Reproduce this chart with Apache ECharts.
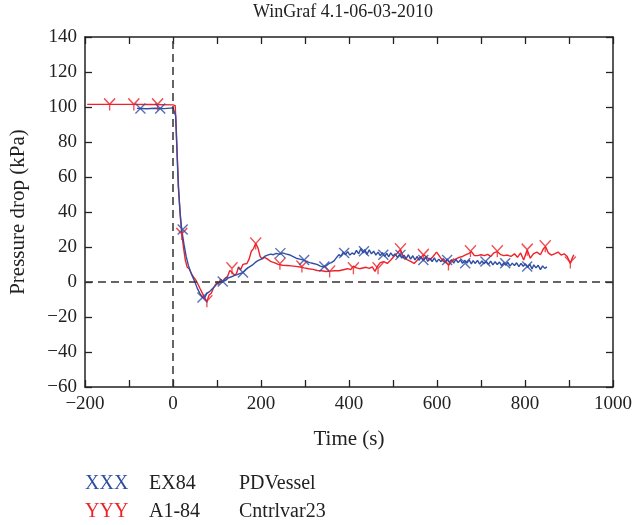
<!DOCTYPE html>
<html>
<head>
<meta charset="utf-8">
<script src="https://cdn.jsdelivr.net/npm/echarts@6/dist/echarts.min.js"></script>
<style>
html, body { margin: 0; padding: 0; background: #fff; }
#chart { width: 636px; height: 525px; }
</style>
</head>
<body>
<div id="chart"></div>
<script>
// EX84 PDVessel (blue), [time s, kPa]
const ex84 = [
  [-82, 99.2], [-60, 99.0], [-40, 99.3], [-20, 99.1], [0, 99.5], [4, 99.8], [6, 95], [9, 75],
  [12, 55], [16, 40], [20, 29.5], [25, 21.5], [30, 14.5], [35, 9.5], [42, 4.5], [49, 0.5],
  [55, -3.5], [61, -6.5], [67, -8.8], [72, -9], [77, -6.5], [83, -5.5], [89, -4], [95, -2.5],
  [100, -1], [106, -0.2], [113, 0.3], [120, 1], [126, 2.4], [133, 3], [139, 3.6], [146, 4.2],
  [153, 4.9], [159, 5.4], [165, 7], [172, 8.4], [180, 9.6], [187, 11.2], [194, 12.4], [201, 13.1],
  [208, 14.6], [215, 15.4], [222, 15.9], [228, 15.6], [235, 16.4], [242, 15.8], [249, 16.6], [256, 16.1],
  [264, 15.6], [272, 14.6], [280, 13.6], [288, 13.1], [295, 12.6], [303, 11.8], [311, 11.1], [319, 10.6],
  [327, 10.1], [335, 9.1], [343, 8.6], [349, 9.4], [355, 10.6], [360, 11.1], [366, 12.1], [372, 14.1],
  [377, 15.6], [382, 14.8], [387, 17.1], [392, 15.6], [397, 17.4], [402, 15.4], [407, 16.6], [412, 15.8],
  [417, 18.1], [422, 16.1], [427, 19.1], [432, 16.6], [436, 18.6], [441, 15.8], [446, 18.4], [451, 16.1],
  [456, 17.6], [461, 15.4], [466, 17.1], [471, 15.1], [476, 16.8], [481, 14.6], [486, 16.4], [490, 14.4],
  [495, 16.6], [500, 14.8], [505, 16.1], [510, 14.1], [515, 15.8], [520, 13.6], [525, 15.4], [530, 13.4],
  [535, 15.6], [540, 13.1], [545, 15], [550, 12.6], [555, 14.6], [559, 12.4], [564, 14.2], [569, 12.1],
  [574, 14.4], [579, 11.8], [584, 13.6], [589, 11.6], [594, 13.8], [599, 11.4], [604, 13.1], [609, 11.6],
  [614, 13.4], [619, 11.1], [623, 13.2], [628, 11.4], [633, 12.8], [638, 10.8], [643, 13], [648, 11.1],
  [653, 12.6], [658, 10.6], [663, 12.4], [668, 10.8], [673, 12.6], [678, 10.4], [682, 12.2], [687, 10.6],
  [692, 12.4], [697, 10.2], [702, 12], [707, 10.4], [712, 11.8], [717, 10.1], [722, 11.9], [727, 9.8],
  [732, 11.6], [737, 10], [742, 11.4], [747, 9.4], [752, 11.1], [756, 9.6], [761, 11.2], [766, 9.1],
  [771, 10.8], [776, 9.4], [781, 11], [786, 8.8], [791, 10.6], [796, 9], [801, 10.4], [806, 8.4],
  [811, 10.1], [816, 7.4], [820, 9.8], [825, 8.1], [830, 9.6], [835, 7.1], [840, 9.2], [845, 7.8], [850, 8.6]
];
const ex84Marks = [
  [-74, 99.2], [-29, 99.2], [22, 30], [67, -8.8], [113, 0.3], [159, 5.4], [244, 16.5], [298, 12.6],
  [344, 8.9], [389, 16.6], [434, 17.6], [478, 15.6], [517, 15.5], [569, 12.6], [623, 12.6], [664, 10.7],
  [710, 11.7], [755, 10.7], [805, 8.8]
];

// A1-84 Cntrlvar23 (red)
const a184 = [
  [-195, 101.5], [-150, 101.5], [-100, 101.5], [-50, 101.4], [0, 101.2], [5, 100.8], [7, 90], [10, 70],
  [13, 52], [17, 36], [20, 27.5], [24, 19.5], [28, 12.5], [32, 8.6], [37, 7.4], [42, 4.6],
  [47, 2.8], [52, 1.1], [57, -1.4], [62, -4], [67, -6.5], [72, -9], [77, -11.2], [82, -7.4],
  [87, -6.4], [92, -3.4], [97, -1.4], [100, 0.1], [103, -1.4], [108, 1.6], [113, 0.6], [118, 2.1],
  [124, 3.1], [129, 6.6], [134, 5.6], [139, 4.1], [144, 4.6], [149, 8.6], [154, 7.1], [159, 10.1],
  [163, 9.6], [168, 10.6], [173, 13.1], [178, 17.6], [183, 19.1], [188, 22.1], [193, 19.6], [198, 14.6],
  [203, 13.1], [208, 14.1], [215, 13.1], [223, 11.6], [230, 11.1], [239, 10.1], [249, 9.6], [259, 9.4],
  [269, 9.2], [279, 8.9], [289, 8.6], [298, 8.1], [308, 7.6], [318, 7.2], [328, 6.6], [338, 6.4],
  [348, 6], [358, 6.2], [367, 6.4], [377, 6.4], [387, 7], [397, 7.6], [404, 7.1], [410, 9.1],
  [417, 8.1], [424, 7.6], [431, 8], [439, 8.4], [446, 7.8], [453, 8.6], [459, 6.1], [465, 9.1],
  [471, 11.1], [479, 11.6], [487, 10.6], [495, 12.6], [502, 14.6], [510, 16.6], [517, 18.6], [524, 14.1],
  [532, 12.8], [540, 11.8], [548, 10.6], [554, 12.1], [559, 13.6], [565, 14.6], [570, 15.6], [577, 14.1],
  [584, 12.6], [591, 14.6], [599, 17.1], [606, 14.6], [613, 12.1], [620, 11.1], [627, 9.6], [634, 12.1],
  [642, 13.1], [650, 14.1], [658, 14.6], [666, 15.6], [673, 16.4], [678, 17.4], [685, 15.1], [692, 15.1],
  [700, 15.6], [708, 15.1], [715, 15.8], [722, 14.6], [729, 16.6], [737, 17.4], [745, 15.6], [752, 15.1],
  [760, 15.4], [768, 14.6], [776, 16.1], [783, 14.1], [790, 16.6], [797, 12.6], [805, 18.4], [812, 13.6],
  [819, 16.1], [827, 17.1], [835, 15.6], [842, 19.1], [847, 20.2], [853, 16.6], [860, 15.4], [867, 16.1],
  [875, 17.1], [882, 15.4], [889, 16.1], [896, 14.6], [903, 10.6], [908, 14.1], [911, 15.6]
];
const a184Marks = [
  [-144, 101.5], [-89, 101.5], [-35, 101.5], [20, 27.5], [77, -11], [134, 7.8], [188, 22], [243, 10.4],
  [293, 8.8], [356, 6], [410, 7.8], [466, 7.8], [517, 18.7], [569, 15.5], [626, 10], [676, 17.6],
  [737, 17.6], [805, 18.5], [846, 20.4], [903, 11.2]
];

const legendRows = [
  { mark: 'XXX', run: 'EX84', variable: 'PDVessel' },
  { mark: 'YYY', run: 'A1-84', variable: 'Cntrlvar23' }
];

const BLUE = '#2f4ea3';
const RED = '#ee2229';
const FONT = 'Liberation Serif';
const X_MARK = 'path://M0,0 L10,10 M10,0 L0,10';
const Y_MARK = 'path://M0,0 L5,5 L10,0 M5,5 L5,10';

const minus = v => String(v).replace('-', '\u2212');

const chart = echarts.init(document.getElementById('chart'));

const tickStyle = { show: true, inside: true, length: 7, lineStyle: { color: '#222', width: 1.3 } };
const lineStyle = { onZero: false, lineStyle: { color: '#222', width: 1.5 } };

const option = {
  backgroundColor: '#fff',
  animation: false,
  grid: { left: 84, right: 23, top: 37, bottom: 138 },
  xAxis: [
    {
      type: 'value', min: -200, max: 1000, interval: 100,
      axisLine: lineStyle, axisTick: tickStyle, splitLine: { show: false },
      axisLabel: {
        margin: 8, color: '#222', fontFamily: FONT, fontSize: 19,
        formatter: v => (v % 200 === 0 ? minus(v) : '')
      },
      name: 'Time (s)', nameLocation: 'middle', nameGap: 42,
      nameTextStyle: { color: '#222', fontFamily: FONT, fontSize: 21 }
    },
    {
      type: 'value', position: 'top', min: -200, max: 1000, interval: 100,
      axisLine: lineStyle, axisTick: tickStyle, axisLabel: { show: false }, splitLine: { show: false }
    }
  ],
  yAxis: [
    {
      type: 'value', min: -60, max: 140, interval: 20,
      axisLine: lineStyle, axisTick: tickStyle, splitLine: { show: false },
      axisLabel: { margin: 8, color: '#222', fontFamily: FONT, fontSize: 19, formatter: minus },
      name: 'Pressure drop (kPa)', nameLocation: 'middle', nameGap: 56,
      nameTextStyle: { color: '#222', fontFamily: FONT, fontSize: 21 }
    },
    {
      type: 'value', position: 'right', min: -60, max: 140, interval: 20,
      axisLine: lineStyle, axisTick: tickStyle, axisLabel: { show: false }, splitLine: { show: false }
    }
  ],
  graphic: [
    {
      type: 'text', x: 343, y: 3,
      style: { text: 'WinGraf 4.1-06-03-2010', fill: '#222', font: '18px "' + FONT + '"', textAlign: 'center' }
    }
  ].concat(legendRows.flatMap((r, i) => {
    const y = 474 + i * 28;
    return [
      { type: 'text', x: 85, y: y, style: { text: r.mark, fill: i === 0 ? BLUE : RED, font: '20px "' + FONT + '"' } },
      { type: 'text', x: 149, y: y, style: { text: r.run, fill: '#222', font: '20px "' + FONT + '"' } },
      { type: 'text', x: 239, y: y, style: { text: r.variable, fill: '#222', font: '20px "' + FONT + '"' } }
    ];
  })),
  series: [
    {
      name: 'A1-84 Cntrlvar23', type: 'line', data: a184, showSymbol: false, z: 3,
      lineStyle: { color: RED, width: 1.4 }
    },
    {
      name: 'EX84 PDVessel', type: 'line', data: ex84, showSymbol: false, z: 4,
      lineStyle: { color: BLUE, width: 1.4 },
      markLine: {
        silent: true, symbol: 'none', label: { show: false },
        lineStyle: { color: '#333', type: [8, 5], width: 1.5 },
        data: [{ yAxis: 0 }, { xAxis: 0 }]
      }
    },
    {
      type: 'scatter', data: a184Marks, symbol: Y_MARK, symbolSize: [11, 12], z: 5,
      itemStyle: { color: 'none', borderColor: RED, borderWidth: 1.4 }
    },
    {
      type: 'scatter', data: ex84Marks, symbol: X_MARK, symbolSize: [10, 10], z: 6,
      itemStyle: { color: 'none', borderColor: BLUE, borderWidth: 1.4 }
    }
  ]
};

chart.setOption(option);
</script>
</body>
</html>
